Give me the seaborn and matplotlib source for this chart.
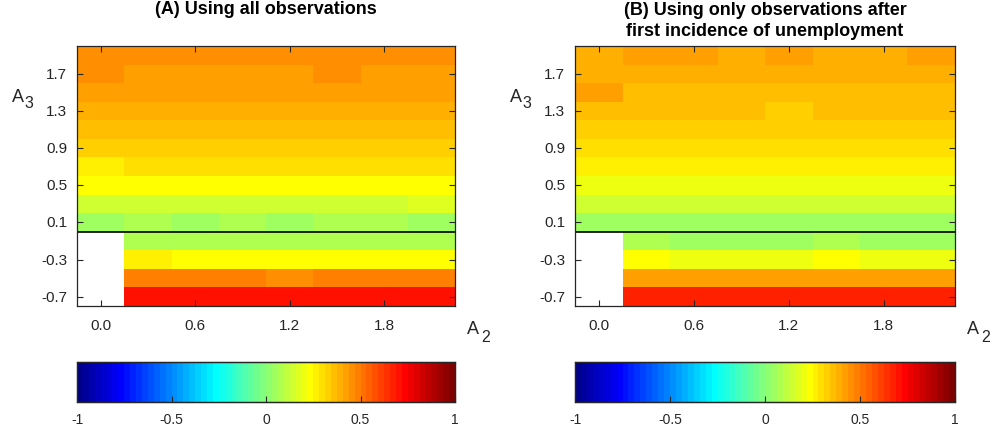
import numpy as np
import pandas as pd
import seaborn as sns
import matplotlib.pyplot as plt
from matplotlib.colors import ListedColormap

# Grid of parameter values
a2_values = [0.0, 0.3, 0.6, 0.9, 1.2, 1.5, 1.8, 2.1]
a3_values = [-0.7, -0.5, -0.3, -0.1, 0.1, 0.3, 0.5, 0.7, 0.9, 1.1, 1.3, 1.5, 1.7, 1.9]
nan = np.nan

# Panel A: all observations (rows follow a3_values, columns follow a2_values)
panel_a = [
    [nan, 0.70, 0.70, 0.70, 0.70, 0.70, 0.70, 0.70],
    [nan, 0.48, 0.48, 0.48, 0.45, 0.48, 0.48, 0.48],
    [nan, 0.27, 0.23, 0.23, 0.23, 0.23, 0.23, 0.23],
    [nan, 0.08, 0.08, 0.08, 0.08, 0.08, 0.08, 0.08],
    [0.05, 0.08, 0.05, 0.08, 0.05, 0.08, 0.08, 0.05],
    [0.14, 0.14, 0.14, 0.14, 0.14, 0.14, 0.14, 0.17],
    [0.23, 0.23, 0.23, 0.23, 0.23, 0.23, 0.23, 0.23],
    [0.27, 0.30, 0.30, 0.30, 0.30, 0.30, 0.30, 0.30],
    [0.33, 0.33, 0.33, 0.33, 0.33, 0.33, 0.33, 0.33],
    [0.36, 0.36, 0.36, 0.36, 0.36, 0.36, 0.36, 0.36],
    [0.39, 0.39, 0.39, 0.39, 0.39, 0.39, 0.39, 0.39],
    [0.42, 0.42, 0.42, 0.42, 0.42, 0.42, 0.42, 0.42],
    [0.45, 0.42, 0.42, 0.42, 0.42, 0.45, 0.42, 0.42],
    [0.45, 0.45, 0.45, 0.45, 0.45, 0.45, 0.45, 0.45],
]

# Panel B: only observations after first unemployment spell
panel_b = [
    [nan, 0.67, 0.67, 0.67, 0.67, 0.67, 0.67, 0.67],
    [nan, 0.42, 0.42, 0.42, 0.42, 0.42, 0.42, 0.42],
    [nan, 0.23, 0.20, 0.20, 0.20, 0.23, 0.20, 0.20],
    [nan, 0.08, 0.05, 0.05, 0.05, 0.08, 0.05, 0.05],
    [0.05, 0.05, 0.05, 0.05, 0.05, 0.05, 0.05, 0.05],
    [0.14, 0.14, 0.14, 0.14, 0.14, 0.14, 0.14, 0.14],
    [0.20, 0.20, 0.20, 0.20, 0.20, 0.20, 0.20, 0.20],
    [0.27, 0.27, 0.27, 0.27, 0.27, 0.27, 0.27, 0.27],
    [0.30, 0.30, 0.30, 0.30, 0.30, 0.30, 0.30, 0.30],
    [0.33, 0.33, 0.33, 0.33, 0.33, 0.33, 0.33, 0.33],
    [0.36, 0.36, 0.36, 0.36, 0.33, 0.36, 0.36, 0.36],
    [0.42, 0.36, 0.36, 0.36, 0.36, 0.36, 0.36, 0.36],
    [0.39, 0.39, 0.39, 0.39, 0.39, 0.39, 0.39, 0.39],
    [0.39, 0.42, 0.42, 0.39, 0.42, 0.39, 0.39, 0.42],
]

titles = ["(A) Using all observations",
          "(B) Using only observations after\nfirst incidence of unemployment"]
x_ticks = [0.0, 0.6, 1.2, 1.8]
y_ticks = [-0.7, -0.3, 0.1, 0.5, 0.9, 1.3, 1.7]
cbar_ticks = [-1, -0.5, 0, 0.5, 1]
cbar_labels = ["-1", "-0.5", "0", "0.5", "1"]


def matlab_jet(m=64):
    # same construction as MATLAB's jet(m)
    n = int(np.ceil(m / 4))
    u = np.concatenate([np.arange(1, n + 1) / n, np.ones(n - 1), np.arange(n, 0, -1) / n])
    g = int(np.ceil(n / 2)) - int(m % 4 == 1) + np.arange(1, len(u) + 1)
    J = np.zeros((m, 3))
    for ch, idx in enumerate([g + n, g, g - n]):
        keep = (idx >= 1) & (idx <= m)
        J[idx[keep] - 1, ch] = u[keep]
    return ListedColormap(J)


plt.rcParams["font.family"] = ["Liberation Sans", "DejaVu Sans"]
edge = "#262626"
cmap = matlab_jet(64)

W, H = 991, 435
fig = plt.figure(figsize=(W / 100, H / 100), dpi=100)

lefts = [77, 575]
widths = [378, 380]
for data, left, width, title in zip([panel_a, panel_b], lefts, widths, titles):
    ax = fig.add_axes([left / W, 1 - 307 / H, width / W, 260 / H])
    cax = fig.add_axes([left / W, 1 - 403 / H, width / W, 40 / H])
    df = pd.DataFrame(data, index=a3_values, columns=a2_values)
    sns.heatmap(df, ax=ax, cmap=cmap, vmin=-1, vmax=1, cbar_ax=cax,
                cbar_kws={"orientation": "horizontal", "ticks": cbar_ticks})
    ax.invert_yaxis()

    # zero line for A3
    n_neg = sum(v < 0 for v in a3_values)
    ax.axhline(n_neg, color="black", lw=1.2)

    xpos = [int(np.argmin(np.abs(np.array(a2_values) - v))) + 0.5 for v in x_ticks]
    ypos = [int(np.argmin(np.abs(np.array(a3_values) - v))) + 0.5 for v in y_ticks]
    ax.set_xticks(xpos)
    ax.set_xticklabels([f"{v:.1f}" for v in x_ticks], rotation=0)
    ax.set_yticks(ypos)
    ax.set_yticklabels([f"{v:.1f}" for v in y_ticks], rotation=0)
    ax.set_xlabel("")
    ax.set_ylabel("")
    for s in ax.spines.values():
        s.set_visible(True)
        s.set_color(edge)
        s.set_linewidth(0.9)
    ax.tick_params(axis="x", direction="in", top=True, bottom=True, length=4,
                   color=edge, labelcolor=edge, labelsize=11, pad=9)
    ax.tick_params(axis="y", direction="in", left=True, right=True, length=4,
                   color=edge, labelcolor=edge, labelsize=11, pad=7)

    # colorbar styling
    cax.set_xticks(cbar_ticks)
    cax.set_xticklabels(cbar_labels)
    cax.tick_params(direction="in", length=4, color=edge, labelcolor=edge,
                    labelsize=10, pad=7)
    cbar = cax.collections[0].colorbar if cax.collections else None
    for s in cax.spines.values():
        s.set_visible(True)
        s.set_color(edge)
        s.set_linewidth(0.9)
    if cbar is not None:
        cbar.outline.set_edgecolor(edge)
        cbar.outline.set_linewidth(0.9)

    # axis labels with subscripts
    fig.text((left - 65) / W, 1 - 97 / H, "A", fontsize=13, color=edge, va="center", ha="left")
    fig.text((left - 53) / W, 1 - 104 / H, "3", fontsize=11.5, color=edge, va="center", ha="left")
    right = left + width
    fig.text((right + 12) / W, 1 - 329 / H, "A", fontsize=13, color=edge, va="center", ha="left")
    fig.text((right + 26) / W, 1 - 337 / H, "2", fontsize=11.5, color=edge, va="center", ha="left")

    # title
    n_lines = title.count("\n") + 1
    fig.text((left + width / 2) / W, 1 - (10 + 11 * (n_lines - 1)) / H, title,
             fontsize=13, fontweight="bold", ha="center", va="center",
             linespacing=1.3, color="black")

fig.savefig("out.png", dpi=100)
